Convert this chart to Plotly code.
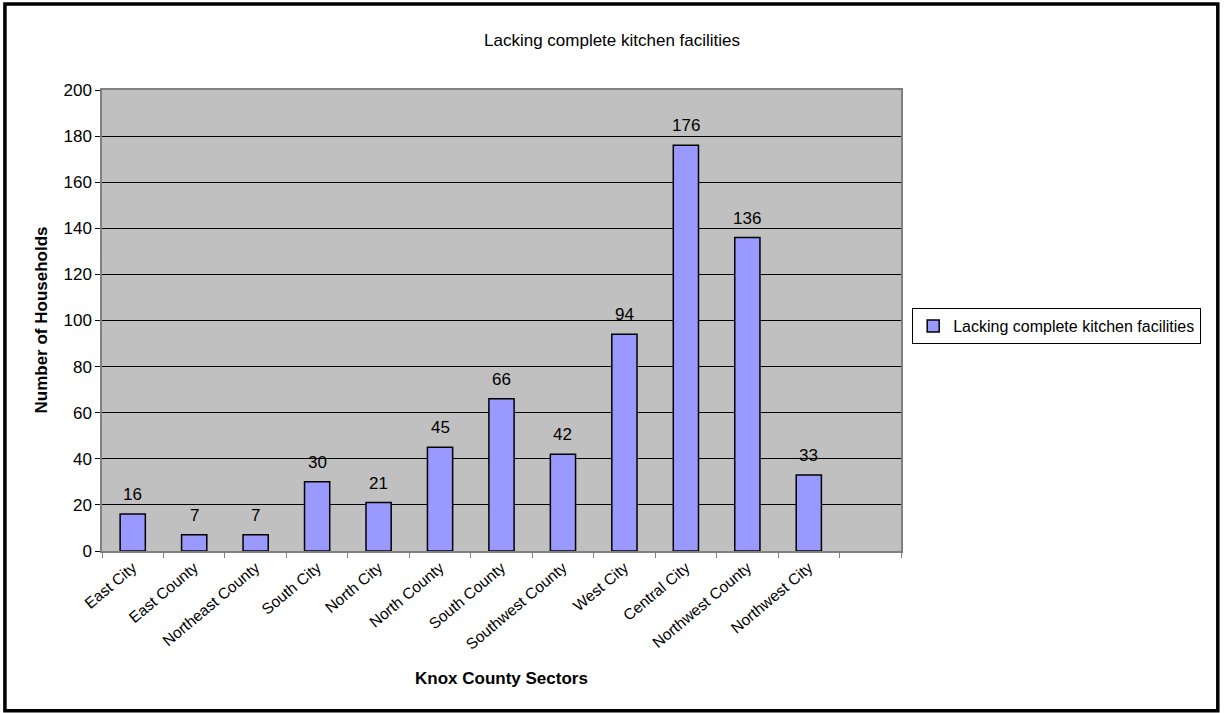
import plotly.graph_objects as go

# Households lacking complete kitchen facilities by Knox County sector
sectors = [
    "East City", "East County", "Northeast County", "South City", "North City",
    "North County", "South County", "Southwest County", "West City",
    "Central City", "Northwest County", "Northwest City", " ",
]
households = [16, 7, 7, 30, 21, 45, 66, 42, 94, 176, 136, 33, None]

series_name = "Lacking complete kitchen facilities"
chart_title = "Lacking complete kitchen facilities"
x_title = "Knox County Sectors"
y_title = "Number of Households"

FONT = "Liberation Sans, Arial, sans-serif"

fig = go.Figure(
    go.Bar(
        x=sectors,
        y=households,
        name=series_name,
        width=0.41,
        marker=dict(color="#9999FF", line=dict(color="#000000", width=1.5)),
        showlegend=True,
    )
)

# value labels sitting a little above each bar
value_labels = [
    dict(
        x=s, y=v, xref="x", yref="y", text=str(v), showarrow=False,
        yanchor="bottom", yshift=8,
        font=dict(family=FONT, size=17, color="#000000"),
    )
    for s, v in zip(sectors, households) if v is not None
]

fig.update_layout(
    width=1225,
    height=713,
    margin=dict(l=102, r=324, t=90, b=162, autoexpand=False),
    paper_bgcolor="#FFFFFF",
    plot_bgcolor="#C0C0C0",
    font=dict(family=FONT, size=17, color="#000000"),
    legend=dict(
        x=1.014, y=0.527, xanchor="left", yanchor="top",
        bgcolor="#FFFFFF", bordercolor="#000000", borderwidth=1,
        font=dict(family=FONT, size=16, color="#000000"),
        itemwidth=30,
        tracegroupgap=0,
    ),
    xaxis=dict(
        type="category",
        tickson="boundaries",
        ticks="outside",
        ticklen=5,
        tickcolor="#808080",
        tickangle=-40,
        tickfont=dict(family=FONT, size=15.5),
        showgrid=False,
        showline=True,
        linecolor="#808080",
        linewidth=1.5,
        mirror=True,
        range=[-0.5, len(sectors) - 0.5],
        automargin=False,
    ),
    yaxis=dict(
        range=[0, 200],
        dtick=20,
        ticks="outside",
        ticklen=5,
        tickcolor="#000000",
        tickfont=dict(family=FONT, size=17),
        showgrid=True,
        gridcolor="#000000",
        gridwidth=1,
        showline=True,
        linecolor="#808080",
        linewidth=1.5,
        mirror=True,
        zeroline=False,
        automargin=False,
    ),
    shapes=[
        dict(
            type="rect", xref="paper", yref="paper",
            x0=-0.1215, x1=1.3965, y0=-0.3463, y1=1.1868,
            line=dict(color="#000000", width=3.5), layer="below",
        )
    ],
    annotations=value_labels + [
        dict(
            text=chart_title, xref="paper", yref="paper",
            x=(612 - 102) / 799, y=1, yshift=50, showarrow=False,
            xanchor="center", yanchor="middle",
            font=dict(family=FONT, size=17),
        ),
        dict(
            text=f"<b>{x_title}</b>", xref="paper", yref="paper",
            x=0.5, y=0, yshift=-127, showarrow=False,
            xanchor="center", yanchor="middle",
            font=dict(family=FONT, size=17),
        ),
        dict(
            text=f"<b>{y_title}</b>", xref="paper", yref="paper",
            x=0, xshift=-61, y=0.5, showarrow=False, textangle=-90,
            xanchor="center", yanchor="middle",
            font=dict(family=FONT, size=17),
        ),
    ],
)

fig.write_html("out.html")
